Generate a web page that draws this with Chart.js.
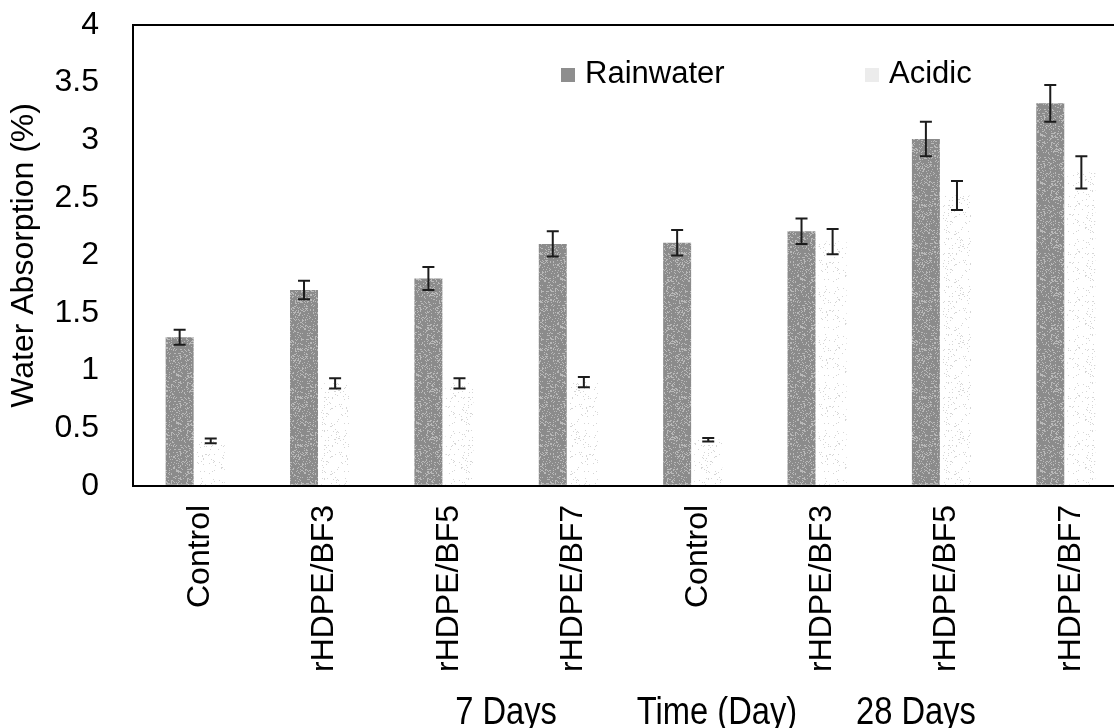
<!DOCTYPE html>
<html>
<head>
<meta charset="utf-8">
<script src="https://cdn.jsdelivr.net/npm/chart.js@4"></script>
<style>
  body { margin: 0; background: #fff; overflow: hidden; }
  canvas { display: block; }
</style>
</head>
<body>
<canvas id="absorptionChart" width="1137" height="728"></canvas>
<script>
// samples (two time groups: 7 days and 28 days)
const categories = ['Control', 'rHDPE/BF3', 'rHDPE/BF5', 'rHDPE/BF7', 'Control', 'rHDPE/BF3', 'rHDPE/BF5', 'rHDPE/BF7']
const rainwater = [1.29, 1.70, 1.80, 2.10, 2.11, 2.21, 3.01, 3.32]
const rainwaterErr = [0.065, 0.08, 0.10, 0.11, 0.11, 0.11, 0.15, 0.16]
const acidic = [0.39, 0.89, 0.89, 0.90, 0.40, 2.12, 2.52, 2.72]
const acidicErr = [0.02, 0.045, 0.045, 0.045, 0.015, 0.11, 0.125, 0.14]
const yTicks = [0, 0.5, 1, 1.5, 2, 2.5, 3, 3.5, 4]
const groupLabels = ['7 Days', 'Time (Day)', '28 Days']

const FONT = "'Liberation Sans', Arial, sans-serif"
Chart.defaults.color = '#000'
Chart.defaults.font.family = FONT

// grainy fill like the scanned figure (hash, not random)
function speckle(base, dot, amount) {
  const c = document.createElement('canvas')
  c.width = c.height = 48
  const g = c.getContext('2d')
  g.fillStyle = base
  g.fillRect(0, 0, 48, 48)
  g.fillStyle = dot
  for (let y = 0; y < 48; y++) {
    for (let x = 0; x < 48; x++) {
      const h = Math.sin(x * 12.9898 + y * 78.233) * 43758.5453
      if (h - Math.floor(h) < amount) g.fillRect(x, y, 1, 1)
    }
  }
  return g.createPattern(c, 'repeat')
}

const rainFill = speckle('#8b8b8b', '#b9b9b9', 0.22)
const acidFill = speckle('#ffffff', '#d6d6d6', 0.06)

const errorBars = {
  id: 'errorBars',
  afterDatasetsDraw(chart) {
    const ctx = chart.ctx
    const y = chart.scales.y
    ctx.save()
    ctx.strokeStyle = '#1c1c1c'
    ctx.lineWidth = 2
    chart.data.datasets.forEach((ds, i) => {
      chart.getDatasetMeta(i).data.forEach((bar, j) => {
        const v = ds.data[j]
        const e = ds.errors[j]
        const top = y.getPixelForValue(v + e)
        const bot = y.getPixelForValue(v - e)
        ctx.beginPath()
        ctx.moveTo(bar.x, top); ctx.lineTo(bar.x, bot)
        ctx.moveTo(bar.x - 6, top); ctx.lineTo(bar.x + 6, top)
        ctx.moveTo(bar.x - 6, bot); ctx.lineTo(bar.x + 6, bot)
        ctx.stroke()
      })
    })
    ctx.restore()
  }
}

// legend sits inside the frame, and the group captions under the axis
const extras = {
  id: 'extras',
  afterDraw(chart) {
    const ctx = chart.ctx
    const a = chart.chartArea
    ctx.save()
    ctx.font = '31px ' + FONT
    ctx.fillStyle = '#000'
    const legendX = [428, 732]
    chart.data.datasets.forEach((ds, i) => {
      const x = a.left + legendX[i]
      ctx.fillStyle = ds.legendColor
      ctx.fillRect(x, a.top + 43, 14, 14)
      ctx.fillStyle = '#000'
      ctx.fillText(ds.label, x + 24, a.top + 58)
    })
    // narrow caption font: squeeze Liberation Sans horizontally
    ctx.font = '38px ' + FONT
    ctx.textAlign = 'center'
    const capX = [373, 584, 783]
    groupLabels.forEach((t, i) => {
      ctx.save()
      ctx.translate(a.left + capX[i], 724)
      ctx.scale(0.86, 1)
      ctx.fillText(t, 0, 0)
      ctx.restore()
    })
    ctx.restore()
  }
}

new Chart(document.getElementById('absorptionChart'), {
  type: 'bar',
  data: {
    labels: categories,
    datasets: [{
      label: 'Rainwater',
      data: rainwater,
      errors: rainwaterErr,
      backgroundColor: rainFill,
      legendColor: '#8e8e8e'
    }, {
      label: 'Acidic',
      data: acidic,
      errors: acidicErr,
      backgroundColor: acidFill,
      legendColor: '#ececec'
    }]
  },
  options: {
    responsive: false,
    animation: false,
    categoryPercentage: 0.5,
    barPercentage: 0.9,
    layout: { padding: { top: 25, right: 9, bottom: 45, left: 0 } },
    plugins: {
      legend: { display: false },
      tooltip: { enabled: false }
    },
    scales: {
      x: {
        grid: { display: false },
        border: { display: true, color: '#000', width: 2 },
        ticks: { font: { size: 32 }, minRotation: 90, maxRotation: 90, padding: 11, labelOffset: 5 }
      },
      y: {
        min: 0,
        max: 4,
        afterBuildTicks: (s) => { s.ticks = yTicks.map(v => ({ value: v })) },
        afterFit: (s) => { s.width = 133; s.paddingTop = 0 },
        grid: {
          drawTicks: false,
          lineWidth: 2,
          color: (c) => c.tick && c.tick.value === 4 ? '#000' : 'rgba(0,0,0,0)'
        },
        border: { display: true, color: '#000', width: 2 },
        ticks: { font: { size: 32 }, padding: 34, callback: (v) => String(v) },
        title: {
          display: true,
          text: 'Water Absorption (%)',
          font: { size: 32 },
          padding: { top: 5, bottom: 10 }
        }
      }
    }
  },
  plugins: [errorBars, extras]
})
</script>
</body>
</html>
